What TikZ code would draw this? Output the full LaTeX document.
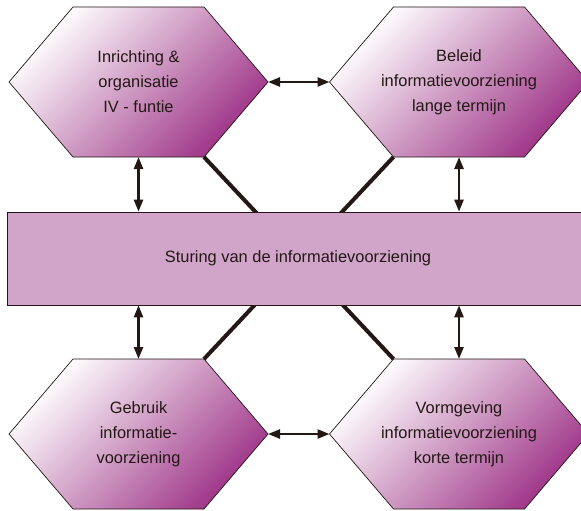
\documentclass[tikz,border=0pt]{standalone}
\usepackage{fontspec}
\setmainfont{Liberation Sans}
\usetikzlibrary{arrows.meta}
\definecolor{ink}{RGB}{35,24,21}
\definecolor{barfill}{RGB}{209,165,201}
\definecolor{hexdark}{RGB}{158,52,135}
\definecolor{hexmid}{RGB}{203,146,194}
\tikzset{
  hexshape/.style={draw=ink, line width=0.7pt, top color=white, middle color=hexmid, bottom color=hexdark, shading angle=45},
  hextext/.style={align=center, text=ink, font=\fontsize{16.4}{25}\selectfont},
  barbox/.style={draw=ink, line width=0.7pt, fill=barfill, minimum width=582pt, minimum height=93pt, text=ink, font=\fontsize{16.4}{25}\selectfont, inner sep=0pt},
  dblarrow/.style={draw=ink, line width=2.4pt, {Triangle[length=12pt,width=9pt]}-{Triangle[length=12pt,width=9pt]}},
  heavyline/.style={draw=ink, line width=4pt}
}
\newcommand\hexnode[4]{%
  \coordinate (#1W) at (#2-129.5,#3);
  \coordinate (#1NW) at (#2-65.5,#3-75);
  \coordinate (#1NE) at (#2+65.5,#3-75);
  \coordinate (#1E) at (#2+129.5,#3);
  \coordinate (#1SE) at (#2+65.5,#3+75);
  \coordinate (#1SW) at (#2-65.5,#3+75);
  \coordinate (#1N) at (#2,#3-75);
  \coordinate (#1S) at (#2,#3+75);
  \path[hexshape] (#1W) -- (#1NW) -- (#1NE) -- (#1E) -- (#1SE) -- (#1SW) -- cycle;
  \node[hextext] (#1) at (#2,#3) {#4};
}
\begin{document}
\begin{tikzpicture}[x=1pt,y=-1pt]
\useasboundingbox (0,0) rectangle (581,511);
\clip (0,0) rectangle (581,511);
\fill[white] (0,0) rectangle (581,511);

\hexnode{tl}{138.5}{82}{Inrichting \&\\organisatie\\IV - funtie}
\hexnode{tr}{459}{82}{Beleid\\informatievoorziening\\lange termijn}
\hexnode{bl}{138.5}{434}{Gebruik\\informatie-\\voorziening}
\hexnode{br}{459}{434}{Vormgeving\\informatievoorziening\\korte termijn}

\draw[heavyline] (tlSE) -- (brNW);
\draw[heavyline] (trSW) -- (blNE);

\node[barbox] (bar) at (298,258.5) {Sturing van de informatievoorziening};

\draw[dblarrow] (tlE) -- (trW);
\draw[dblarrow] (blE) -- (brW);
\draw[dblarrow] (tlS) -- (tlS |- bar.north);
\draw[dblarrow] (trS) -- (trS |- bar.north);
\draw[dblarrow] (blN) -- (blN |- bar.south);
\draw[dblarrow] (brN) -- (brN |- bar.south);
\end{tikzpicture}
\end{document}
